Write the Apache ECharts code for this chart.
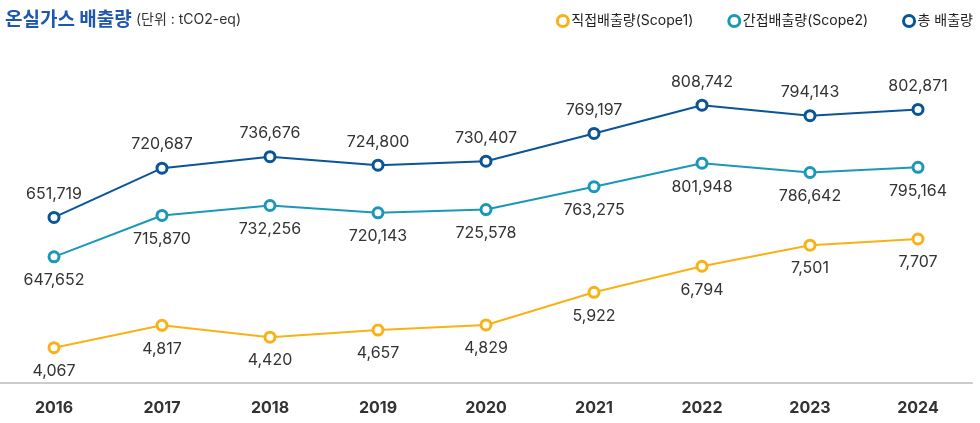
<!DOCTYPE html>
<html>
<head>
<meta charset="utf-8">
<script src="https://cdn.jsdelivr.net/npm/echarts@6/dist/echarts.min.js"></script>
<style>
  html, body { margin: 0; padding: 0; background: #fff; }
  #chart { width: 980px; height: 423px; }
</style>
</head>
<body>
<div id="chart"></div>
<script>
// 연도 / 배출량 (단위 : tCO2-eq)
const years = ['2016', '2017', '2018', '2019', '2020', '2021', '2022', '2023', '2024'];
const scope1 = [4067, 4817, 4420, 4657, 4829, 5922, 6794, 7501, 7707];
const scope2 = [647652, 715870, 732256, 720143, 725578, 763275, 801948, 786642, 795164];
const total = [651719, 720687, 736676, 724800, 730407, 769197, 808742, 794143, 802871];

const names = ['직접배출량(Scope1)', '간접배출량(Scope2)', '총 배출량'];
const colors = ['#f9b115', '#1b98b9', '#0a5597'];

const FONT = 'Inter, "Noto Sans CJK KR", sans-serif';

function fmt(v) {
    return v.toLocaleString('en-US');
}

function lineSeries(idx, data, yIdx, pos) {
    return {
        name: names[idx],
        type: 'line',
        yAxisIndex: yIdx,
        data: data,
        symbol: 'circle',
        symbolSize: 10,
        itemStyle: { color: '#fff', borderColor: colors[idx], borderWidth: 3 },
        lineStyle: { color: colors[idx], width: 2 },
        label: {
            show: true,
            position: pos,
            distance: 9,
            color: '#333',
            fontSize: 16,
            fontFamily: FONT,
            formatter: (p) => fmt(p.value)
        },
        emphasis: { disabled: true },
        z: 3 + idx
    };
}

let chart = echarts.init(document.getElementById('chart'));

let option = {
    animation: false,
    textStyle: { fontFamily: FONT },
    title: {
        left: 0,
        top: 4,
        text: '{a|온실가스 배출량} {b|(단위 : tCO2-eq)}',
        textStyle: {
            rich: {
                a: { fontSize: 19, fontWeight: 'bold', color: '#1e56b0', fontFamily: '"Noto Sans CJK KR", sans-serif' },
                b: { fontSize: 14, fontWeight: 'normal', color: '#333', fontFamily: FONT, padding: [3, 0, 0, 0] }
            }
        }
    },
    legend: {
        right: 2,
        top: 9,
        itemGap: 34,
        itemWidth: 11,
        itemHeight: 11,
        icon: 'circle',
        textStyle: { fontSize: 14, color: '#222', fontFamily: FONT, padding: [0, 0, 0, -2] },
        data: names.map((n, i) => ({
            name: n,
            itemStyle: { color: '#fff', borderColor: colors[i], borderWidth: 3 }
        }))
    },
    grid: { left: 0, right: 8, top: 40, bottom: 40, containLabel: false },
    xAxis: {
        type: 'category',
        data: years,
        boundaryGap: true,
        axisLine: { lineStyle: { color: '#cccccc', width: 2 } },
        axisTick: { show: false },
        axisLabel: {
            color: '#333',
            fontSize: 16,
            fontWeight: 'bold',
            fontFamily: FONT,
            margin: 17
        }
    },
    yAxis: [
        { type: 'value', min: 2885, max: 14372, show: false },
        { type: 'value', min: 439800, max: 1005000, show: false },
        { type: 'value', min: 420000, max: 900000, show: false }
    ],
    series: [
        lineSeries(0, scope1, 0, 'bottom'),
        lineSeries(1, scope2, 1, 'bottom'),
        lineSeries(2, total, 2, 'top')
    ]
};

chart.setOption(option);
</script>
</body>
</html>
